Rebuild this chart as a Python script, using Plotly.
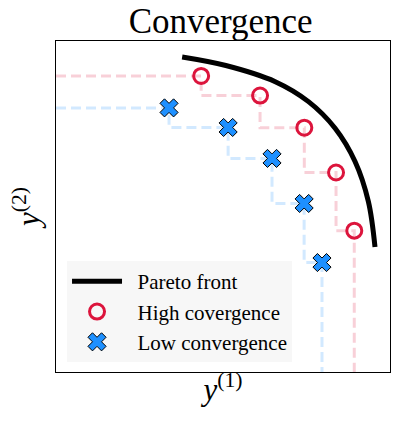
import plotly.graph_objects as go

# values (arc centred at the origin, radius 1)
front_x = [-0.01, 0.22, 0.48, 0.655, 0.795, 0.90, 0.97, 1.005]
front_y = [1.0, 0.955, 0.87, 0.765, 0.625, 0.45, 0.24, 0.0]

high_x = [0.09, 0.40, 0.633, 0.80, 0.896]
high_y = [0.90, 0.797, 0.628, 0.392, 0.086]

low_x = [-0.079, 0.232, 0.463, 0.632, 0.726]
low_y = [0.732, 0.629, 0.466, 0.229, -0.082]

x_lo, x_hi = -0.674, 1.084
y_lo, y_hi = -0.658, 1.084

font = "Liberation Serif"
pad = '\u00a0\u00a0'  # pushes legend text a bit further from the symbols

fig = go.Figure()

# dominated-region staircases
fig.add_trace(go.Scatter(x=[x_lo] + high_x + [high_x[-1]], y=[high_y[0]] + high_y + [y_lo],
                         mode='lines', line_shape='vh', showlegend=False, hoverinfo='skip',
                         line=dict(color='rgba(220,20,60,0.2)', width=3, dash='10px,5px')))
fig.add_trace(go.Scatter(x=[x_lo] + low_x + [low_x[-1]], y=[low_y[0]] + low_y + [y_lo],
                         mode='lines', line_shape='vh', showlegend=False, hoverinfo='skip',
                         line=dict(color='rgba(30,144,255,0.2)', width=3, dash='10px,5px')))

fig.add_trace(go.Scatter(x=front_x, y=front_y, name=pad + 'Pareto front', mode='lines',
                         line=dict(color='black', width=5, shape='spline')))
fig.add_trace(go.Scatter(x=high_x, y=high_y, name=pad + 'High covergence', mode='markers',
                         marker=dict(symbol='circle-open', size=15, color='crimson',
                                     line=dict(color='crimson', width=3))))
fig.add_trace(go.Scatter(x=low_x, y=low_y, name=pad + 'Low convergence', mode='markers',
                         marker=dict(symbol='x', size=16, color='dodgerblue',
                                     line=dict(color='black', width=1))))

fig.update_layout(
    width=399, height=429,
    margin=dict(l=56, r=9, t=41, b=57),
    paper_bgcolor='white', plot_bgcolor='white',
    font=dict(family=font, color='black'),
    title=dict(text='Convergence', font=dict(family=font, size=35, color='black'),
               x=0.553, xanchor='center', y=0.951, yanchor='middle'),
    legend=dict(x=0.033, y=0.03, xanchor='left', yanchor='bottom',
                bgcolor='rgba(247,247,247,1)', borderwidth=0,
                font=dict(family=font, size=21), itemwidth=50),
)
fig.update_xaxes(range=[x_lo, x_hi], showticklabels=False, ticks='', showgrid=False, zeroline=False,
                 showline=True, mirror=True, linecolor='black', linewidth=1, automargin=False,
                 title=dict(text='<i>y</i><sup>(1)</sup>', font=dict(family=font, size=31), standoff=6))
fig.update_yaxes(range=[y_lo, y_hi], showticklabels=False, ticks='', showgrid=False, zeroline=False,
                 showline=True, mirror=True, linecolor='black', linewidth=1, automargin=False,
                 title=dict(text='<i>y</i><sup>(2)</sup>', font=dict(family=font, size=31), standoff=6))

# the page body has a default margin that shifts the figure
fig.write_html("out.html", config=dict(displayModeBar=False),
               post_script="document.body.style.margin='0';")
